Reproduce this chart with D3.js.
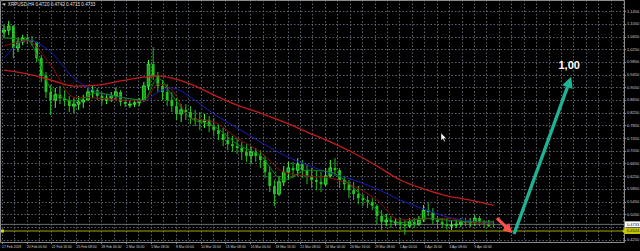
<!DOCTYPE html>
<html>
<head>
<meta charset="utf-8">
<script src="https://cdn.jsdelivr.net/npm/d3@7"></script>
<style>
html, body { margin: 0; padding: 0; background: #000; overflow: hidden; }
svg { display: block; }
text { font-family: "Liberation Sans", Arial, sans-serif; }
</style>
</head>
<body>
<div class="chart"></div>
<script>
var svgWidth = 640;
var svgHeight = 251;
var plotRight = 624;
var plotBottom = 242;

// 12h candles, open = previous close
var firstOpen = 1.079;
var highs = [1.101,1.114,1.101,1.060,1.070,1.073,1.067,1.048,1.007,0.953,
    0.912,0.903,0.909,0.896,0.878,0.871,0.878,0.881,0.903,0.909,
    0.903,0.890,0.884,0.890,0.903,0.896,0.868,0.865,0.868,0.871,
    0.922,0.991,1.032,0.953,0.928,0.915,0.890,0.871,0.852,0.852,
    0.846,0.834,0.827,0.821,0.815,0.808,0.789,0.777,0.764,0.752,
    0.745,0.733,0.726,0.720,0.714,0.707,0.689,0.657,0.613,0.626,
    0.657,0.670,0.670,0.682,0.676,0.663,0.651,0.644,0.638,0.651,
    0.676,0.682,0.651,0.626,0.613,0.607,0.594,0.569,0.563,0.556,
    0.537,0.518,0.506,0.500,0.493,0.493,0.487,0.493,0.493,0.500,
    0.534,0.541,0.525,0.500,0.493,0.493,0.487,0.487,0.493,0.493,
    0.493,0.503,0.500,0.487,0.487,0.484];
var lows = [1.060,1.070,0.997,1.016,1.038,1.041,1.035,0.985,0.922,0.871,
    0.818,0.840,0.852,0.846,0.827,0.824,0.834,0.840,0.865,0.871,
    0.865,0.849,0.852,0.859,0.865,0.846,0.843,0.840,0.843,0.846,
    0.859,0.896,0.928,0.890,0.865,0.846,0.827,0.802,0.796,0.802,
    0.789,0.783,0.770,0.777,0.764,0.752,0.739,0.720,0.707,0.701,
    0.695,0.676,0.670,0.663,0.670,0.651,0.619,0.575,0.531,0.563,
    0.594,0.613,0.619,0.626,0.619,0.600,0.588,0.581,0.575,0.594,
    0.619,0.626,0.588,0.581,0.556,0.550,0.537,0.531,0.525,0.518,
    0.474,0.456,0.468,0.462,0.468,0.456,0.440,0.462,0.462,0.468,
    0.481,0.500,0.474,0.462,0.462,0.456,0.456,0.462,0.465,0.468,
    0.465,0.468,0.468,0.462,0.465,0.465];
var closes = [1.085,1.098,1.029,1.048,1.060,1.054,1.048,0.997,0.941,0.890,
    0.865,0.881,0.871,0.865,0.846,0.852,0.859,0.865,0.890,0.896,
    0.878,0.865,0.871,0.878,0.890,0.859,0.852,0.852,0.856,0.865,
    0.909,0.978,0.941,0.909,0.890,0.865,0.846,0.821,0.834,0.827,
    0.808,0.802,0.796,0.802,0.783,0.770,0.758,0.739,0.726,0.720,
    0.714,0.701,0.689,0.701,0.689,0.676,0.638,0.594,0.569,0.607,
    0.638,0.651,0.644,0.663,0.644,0.626,0.613,0.607,0.600,0.626,
    0.651,0.644,0.613,0.600,0.581,0.569,0.556,0.550,0.544,0.531,
    0.500,0.481,0.487,0.481,0.481,0.474,0.468,0.481,0.474,0.487,
    0.518,0.512,0.487,0.481,0.474,0.468,0.471,0.474,0.481,0.478,
    0.481,0.493,0.481,0.474,0.474,0.4733];

// moving averages sampled at these candle numbers
var maIndex = [0,5,10,15,20,25,30,33,36,40,45,50,55,60,65,70,75,80,85,90,95,100,105];
var maSlow = [0.959,0.947,0.928,0.909,0.912,0.925,0.937,0.941,0.934,0.915,0.881,0.849,
    0.824,0.796,0.764,0.733,0.698,0.657,0.613,0.585,0.563,0.550,0.534];
var maMid = [0.997,1.054,1.016,0.934,0.890,0.874,0.862,0.890,0.903,0.874,0.821,0.777,
    0.733,0.692,0.660,0.635,0.613,0.585,0.550,0.522,0.497,0.484,0.478];
var maShort = [1.035,1.051,0.975,0.874,0.871,0.865,0.862,0.915,0.896,0.808,0.796,0.745,
    0.701,0.638,0.626,0.619,0.594,0.550,0.487,0.490,0.493,0.478,0.474];
var maFast = [1.060,1.054,0.903,0.862,0.887,0.874,0.865,0.934,0.881,0.808,0.783,0.726,
    0.689,0.613,0.644,0.638,0.588,0.518,0.478,0.493,0.487,0.481,0.481];

var priceTicks = [1.1450,1.1050,1.0650,1.0250,0.9850,0.9450,0.9050,0.8650,0.8250,0.7850,
    0.7450,0.7050,0.6650,0.6250,0.5850,0.5450,0.5050,0.4650,0.4250];
var timeLabels = ["17 Feb 2018","20 Feb 00:00","22 Feb 16:00","25 Feb 08:00","28 Feb 00:00",
    "2 Mar 16:00","5 Mar 08:00","8 Mar 00:00","10 Mar 16:00","13 Mar 08:00","16 Mar 00:00",
    "18 Mar 16:00","21 Mar 08:00","24 Mar 00:00","26 Mar 16:00","29 Mar 08:00","1 Apr 00:00",
    "3 Apr 16:00","6 Apr 08:00","9 Apr 00:00"];
var hoursPerLabel = 64;
var candleHours = 12;

var bidPrice = 0.4733;
var levelPrice = 0.4524;
var headerText = "XRPUSD,H4  0.4720 0.4742 0.4715 0.4733";

// hand drawn arrows, in [hour, price]
var downArrow = [[1275, 0.493], [1314, 0.446]];
var upArrow = [[1319, 0.443], [1466, 0.938]];
var upLabel = {hour: 1461, price: 0.962, text: "1,00"};
var cursorAt = [1131, 0.761];

var upColor = "#3cff3c";
var downColor = "#22c422";
var axisFont = "4px";
var timeFont = "3.4px";

var $svg = d3.select(".chart").append("svg")
    .attr("width", svgWidth)
    .attr("height", svgHeight)
    .style("background", "#000");

var xScale = d3.scaleLinear().domain([0, hoursPerLabel]).range([1.7, 26.56]);
var yScale = d3.scaleLinear().domain([0.4250, 1.1450]).range([239.7, 11.1]);

// grid
var $grid = $svg.append("g");
$grid.selectAll(".vgrid")
    .data(d3.range(0, 1700, hoursPerLabel / 2).filter(h => xScale(h) < plotRight))
    .enter().append("line")
    .attr("x1", d => Math.round(xScale(d)) + 0.5).attr("x2", d => Math.round(xScale(d)) + 0.5)
    .attr("y1", 0).attr("y2", plotBottom)
    .attr("stroke", "#5c6270").attr("stroke-dasharray", "1.5,2");
$grid.selectAll(".hgrid")
    .data(priceTicks)
    .enter().append("line")
    .attr("x1", 0).attr("x2", plotRight)
    .attr("y1", d => Math.round(yScale(d)) + 0.5).attr("y2", d => Math.round(yScale(d)) + 0.5)
    .attr("stroke", "#5c6270").attr("stroke-dasharray", "1.5,2");

// level + bid lines
$svg.append("line")
    .attr("x1", 0).attr("x2", plotRight)
    .attr("y1", yScale(levelPrice)).attr("y2", yScale(levelPrice))
    .attr("stroke", "#a8a800").attr("stroke-width", 1);
$svg.append("rect")
    .attr("x", 1).attr("y", yScale(levelPrice) - 1.5)
    .attr("width", 3).attr("height", 3).attr("fill", "#d8d800");
$svg.append("line")
    .attr("x1", 0).attr("x2", plotRight)
    .attr("y1", yScale(bidPrice)).attr("y2", yScale(bidPrice))
    .attr("stroke", "#6e6e6e").attr("stroke-width", 1);

// candles
var candles = closes.map((c, i) => ({
    hour: i * candleHours + candleHours / 2,
    open: i == 0 ? firstOpen : closes[i - 1],
    high: highs[i],
    low: lows[i],
    close: c
}));

var $candles = $svg.append("g").selectAll(".candle")
    .data(candles).enter().append("g").attr("class", "candle");

$candles.append("line")
    .attr("x1", d => xScale(d.hour)).attr("x2", d => xScale(d.hour))
    .attr("y1", d => yScale(d.high)).attr("y2", d => yScale(d.low))
    .attr("stroke", d => d.close >= d.open ? upColor : downColor)
    .attr("stroke-width", 1);

$candles.append("rect")
    .attr("x", d => xScale(d.hour) - 1.4)
    .attr("width", 2.8)
    .attr("y", d => yScale(Math.max(d.open, d.close)))
    .attr("height", d => Math.max(1, Math.abs(yScale(d.open) - yScale(d.close))))
    .attr("fill", d => d.close >= d.open ? "#1a9a1a" : downColor)
    .attr("stroke", d => d.close >= d.open ? upColor : "none")
    .attr("stroke-width", 0.7);

// moving averages
function drawMA(values, color, width) {
    var line = d3.line()
        .x((d, i) => xScale(maIndex[i] * candleHours + candleHours / 2))
        .y(d => yScale(d))
        .curve(d3.curveMonotoneX);
    $svg.append("path")
        .datum(values)
        .attr("d", line)
        .attr("fill", "none")
        .attr("stroke", color)
        .attr("stroke-width", width);
}
drawMA(maSlow, "#c41c1c", 1.3);
drawMA(maMid, "#1c1cb8", 1);
drawMA(maShort, "#8e0c0c", 1);
drawMA(maFast, "#0c8a0c", 1);

// arrows
function drawArrow(pts, color, width, headLen, headHalf) {
    var x1 = xScale(pts[0][0]), y1 = yScale(pts[0][1]);
    var x2 = xScale(pts[1][0]), y2 = yScale(pts[1][1]);
    var a = Math.atan2(y2 - y1, x2 - x1);
    var bx = x2 - headLen * Math.cos(a), by = y2 - headLen * Math.sin(a);
    $svg.append("line")
        .attr("x1", x1).attr("y1", y1).attr("x2", bx + Math.cos(a)).attr("y2", by + Math.sin(a))
        .attr("stroke", color).attr("stroke-width", width).attr("stroke-linecap", "butt");
    var px = -Math.sin(a), py = Math.cos(a);
    $svg.append("path")
        .attr("d", `M${x2},${y2}L${bx + px * headHalf},${by + py * headHalf}L${bx - px * headHalf},${by - py * headHalf}Z`)
        .attr("fill", color);
}
drawArrow(downArrow, "#ff4f4f", 3, 9, 4.8);
drawArrow(upArrow, "#1db394", 3.4, 11, 5.6);

$svg.append("text")
    .attr("x", xScale(upLabel.hour)).attr("y", yScale(upLabel.price))
    .attr("text-anchor", "middle")
    .attr("fill", "#ffffff")
    .style("font-size", "11px").style("font-weight", "bold")
    .text(upLabel.text);

// mouse pointer
var cx = xScale(cursorAt[0]), cy = yScale(cursorAt[1]);
$svg.append("path")
    .attr("d", `M${cx},${cy}l0,7.5l1.8,-1.7l1.4,3l1,-0.5l-1.3,-2.9l2.5,0z`)
    .attr("fill", "#ffffff").attr("stroke", "#000").attr("stroke-width", 0.4);

// frame
$svg.append("path")
    .attr("d", `M0.5,0.5H${plotRight + 0.5}V${plotBottom + 0.5}H0.5Z`)
    .attr("fill", "none").attr("stroke", "#8c8c8c").attr("stroke-width", 1);

// price axis (labels under the price boxes are hidden, as in the terminal)
var boxYs = [yScale(bidPrice), yScale(levelPrice)];
var shownTicks = priceTicks.filter(p => boxYs.every(b => Math.abs(yScale(p) - b) > 6.5));
var $yAxis = $svg.append("g");
$yAxis.selectAll(".ylab")
    .data(shownTicks).enter().append("text")
    .attr("x", plotRight + 3).attr("y", d => yScale(d))
    .attr("dy", "0.35em")
    .attr("fill", "#d0d0d0")
    .style("font-size", axisFont)
    .text(d => d3.format(".4f")(d));
$yAxis.selectAll(".ytick")
    .data(priceTicks).enter().append("line")
    .attr("x1", plotRight).attr("x2", plotRight + 2)
    .attr("y1", d => Math.round(yScale(d)) + 0.5).attr("y2", d => Math.round(yScale(d)) + 0.5)
    .attr("stroke", "#8c8c8c");

// price boxes
$svg.append("rect")
    .attr("x", plotRight + 1).attr("y", yScale(bidPrice) - 3)
    .attr("width", 15).attr("height", 6).attr("fill", "#ffffff");
$svg.append("text")
    .attr("x", plotRight + 3).attr("y", yScale(bidPrice)).attr("dy", "0.35em")
    .attr("fill", "#000").style("font-size", axisFont)
    .text(d3.format(".4f")(bidPrice));
$svg.append("path")
    .attr("d", `M${plotRight - 2},${yScale(levelPrice)}L${plotRight + 1},${yScale(levelPrice) - 3}H${plotRight + 16}V${yScale(levelPrice) + 3}H${plotRight + 1}Z`)
    .attr("fill", "#c4c400");
$svg.append("text")
    .attr("x", plotRight + 3).attr("y", yScale(levelPrice)).attr("dy", "0.35em")
    .attr("fill", "#202000").style("font-size", axisFont)
    .text(d3.format(".4f")(levelPrice));

// time axis
var $xAxis = $svg.append("g");
$xAxis.selectAll(".xlab")
    .data(timeLabels).enter().append("text")
    .attr("x", (d, i) => xScale(i * hoursPerLabel) + 0.3)
    .attr("y", plotBottom + 6)
    .attr("fill", "#d0d0d0")
    .style("font-size", timeFont)
    .text(d => d);
$xAxis.selectAll(".xtick")
    .data(timeLabels).enter().append("line")
    .attr("x1", (d, i) => Math.round(xScale(i * hoursPerLabel)) + 0.5)
    .attr("x2", (d, i) => Math.round(xScale(i * hoursPerLabel)) + 0.5)
    .attr("y1", plotBottom).attr("y2", plotBottom + 2)
    .attr("stroke", "#8c8c8c");

// header
$svg.append("text")
    .attr("x", 2).attr("y", 6)
    .attr("fill", "#e0e0e0")
    .style("font-size", "4.6px")
    .text("\u25BC " + headerText);
</script>
</body>
</html>
